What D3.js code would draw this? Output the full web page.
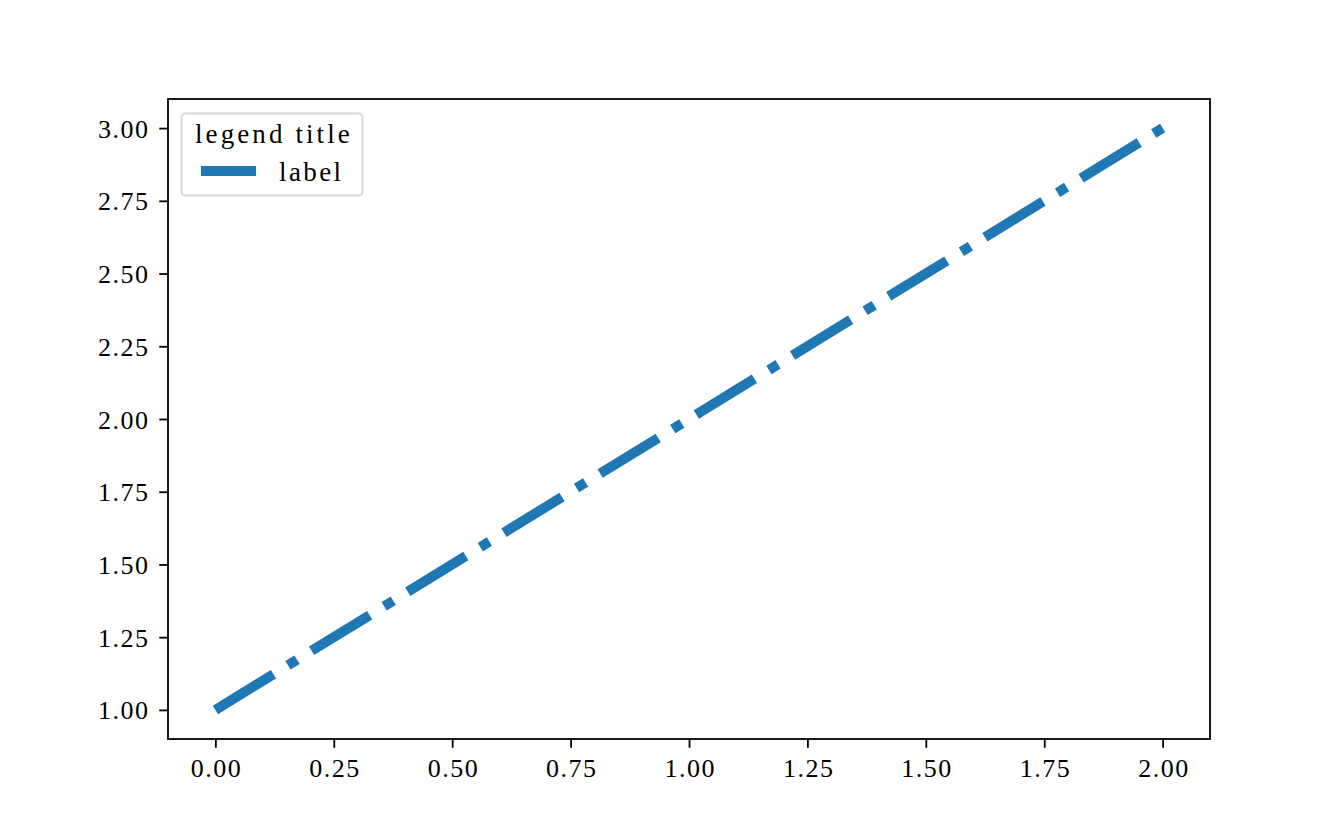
<!DOCTYPE html>
<html>
<head>
<meta charset="utf-8">
<script src="https://cdn.jsdelivr.net/npm/d3@7"></script>
<style>
  html, body { margin: 0; padding: 0; background: #fff; }
  svg { display: block; }
  text { font-family: "Liberation Serif", "DejaVu Serif", serif; fill: #000; }
</style>
</head>
<body>
<svg id="chart" width="1344" height="830"></svg>
<script>
// ---- data ----
const xValues = [0, 1, 2];
const yValues = [1, 2, 3];
const xTicks = [0, 0.25, 0.5, 0.75, 1, 1.25, 1.5, 1.75, 2];
const yTicks = [1, 1.25, 1.5, 1.75, 2, 2.25, 2.5, 2.75, 3];
const seriesLabel = "label";
const legendTitle = "legend title";

// ---- layout ----
const plotLeft = 168, plotRight = 1210, plotTop = 99, plotBottom = 739;
const color = "#1f77b4";
const fontSize = 26;
const legendFont = 27;
const charW = 12.5;
const fmt = d3.format(".2f");

const svg = d3.select("#chart");

const x = d3.scaleLinear().domain([-0.1, 2.1]).range([plotLeft, plotRight]);
const y = d3.scaleLinear().domain([0.9, 3.1]).range([plotBottom, plotTop]);

// line
const line = d3.line().x((d, i) => x(xValues[i])).y((d, i) => y(yValues[i]));
const k = 10.65;
svg.append("path")
  .datum(yValues)
  .attr("d", line)
  .attr("fill", "none")
  .attr("stroke", color)
  .attr("stroke-width", 10)
  .attr("stroke-linecap", "butt")
  .attr("stroke-dasharray", [6.4 * k, 1.6 * k, 1 * k, 1.6 * k].join(" "));

// x axis
const gx = svg.append("g")
  .attr("transform", `translate(0,${plotBottom})`)
  .call(d3.axisBottom(x).tickValues(xTicks).tickFormat(fmt).tickSize(8.75).tickSizeOuter(0));
gx.select(".domain").remove();
gx.selectAll(".tick line").attr("stroke", "#000").attr("stroke-width", 1.8);
gx.selectAll(".tick text")
  .attr("y", 38).attr("dy", null)
  .attr("font-size", fontSize)
  .attr("font-family", "Liberation Serif")
  .attr("text-anchor", "middle")
  .attr("textLength", d => fmt(d).length * charW)
  .attr("lengthAdjust", "spacing");

// y axis
const gy = svg.append("g")
  .attr("transform", `translate(${plotLeft},0)`)
  .call(d3.axisLeft(y).tickValues(yTicks).tickFormat(fmt).tickSize(8.75).tickSizeOuter(0));
gy.select(".domain").remove();
gy.selectAll(".tick line").attr("stroke", "#000").attr("stroke-width", 1.8);
gy.selectAll(".tick text")
  .attr("x", -20).attr("dy", 9)
  .attr("font-size", fontSize)
  .attr("font-family", "Liberation Serif")
  .attr("text-anchor", "end")
  .attr("textLength", d => fmt(d).length * charW)
  .attr("lengthAdjust", "spacing");

// spines
svg.append("rect")
  .attr("x", plotLeft).attr("y", plotTop)
  .attr("width", plotRight - plotLeft).attr("height", plotBottom - plotTop)
  .attr("fill", "none").attr("stroke", "#000").attr("stroke-width", 1.8);

// legend
const lg = svg.append("g");
lg.append("rect")
  .attr("x", 181.5).attr("y", 113.5)
  .attr("width", 181).attr("height", 82)
  .attr("rx", 4).attr("ry", 4)
  .attr("fill", "#fff").attr("fill-opacity", 0.8)
  .attr("stroke", "#d6d6d6").attr("stroke-width", 1.8);
lg.append("text")
  .attr("x", 195).attr("y", 143)
  .attr("font-size", legendFont)
  .attr("textLength", legendTitle.length * 12.9)
  .attr("lengthAdjust", "spacing")
  .text(legendTitle);
lg.append("line")
  .attr("x1", 201).attr("x2", 256)
  .attr("y1", 171).attr("y2", 171)
  .attr("stroke", color).attr("stroke-width", 10);
lg.append("text")
  .attr("x", 279).attr("y", 181)
  .attr("font-size", legendFont)
  .attr("textLength", seriesLabel.length * 12.4)
  .attr("lengthAdjust", "spacing")
  .text(seriesLabel);
</script>
</body>
</html>
